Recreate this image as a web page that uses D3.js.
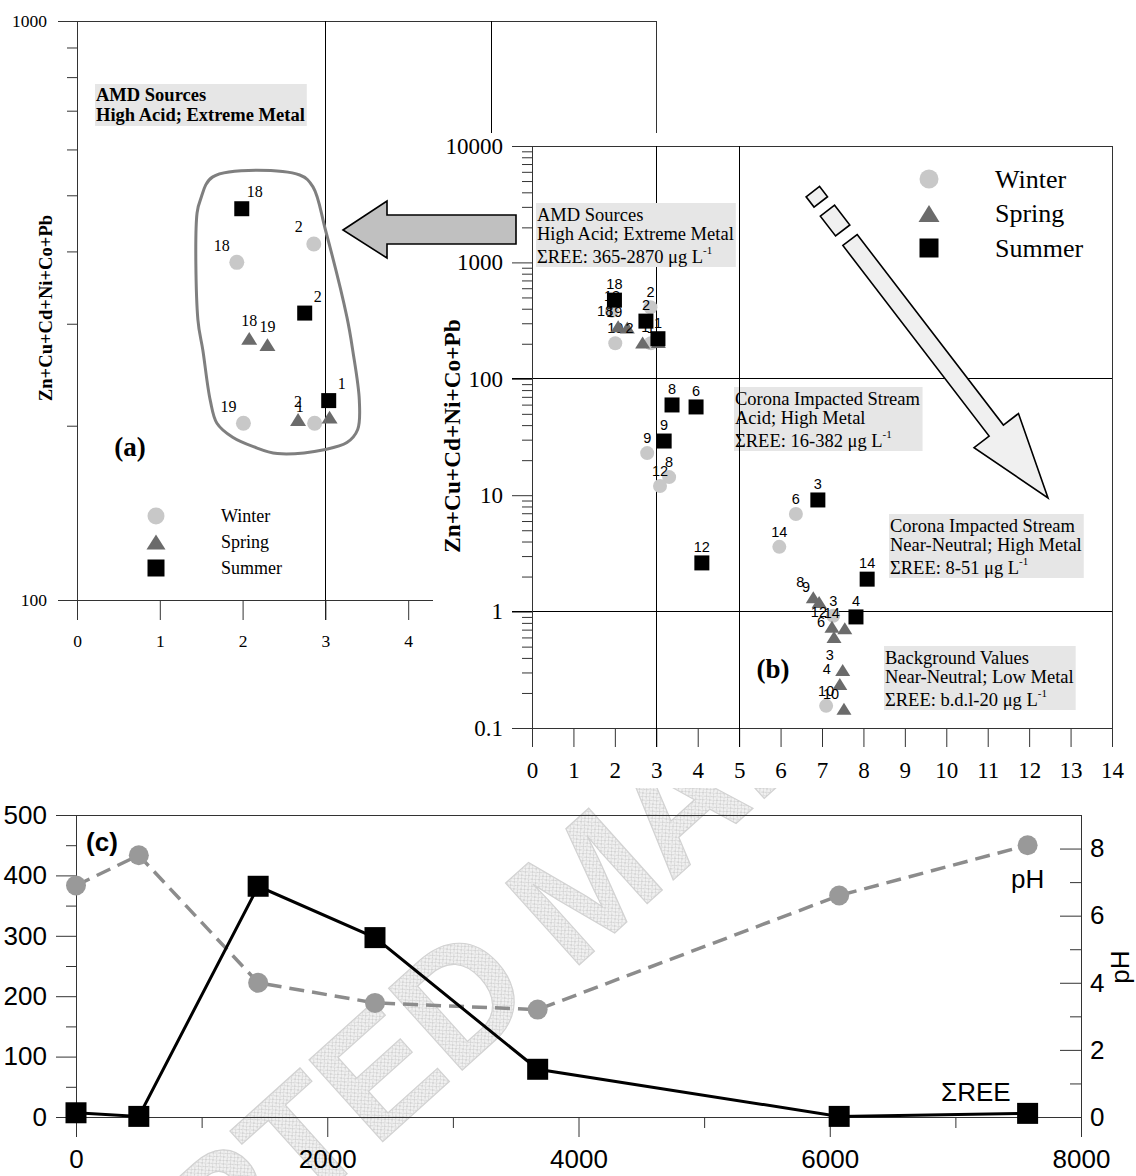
<!DOCTYPE html>
<html>
<head>
<meta charset="utf-8">
<script src="https://cdn.jsdelivr.net/npm/d3@7"></script>
<style>
  body { margin: 0; background: #fff; }
  svg { display: block; }
</style>
</head>
<body>
<svg id="fig" width="1136" height="1176"></svg>
<script>
// ---- metal load (Zn+Cu+Cd+Ni+Co+Pb, µg/L) against pH, by sampling season ----
const winterSites = ["18", "2", "19", "1", "9", "8", "12", "6", "14", "3", "10"];
const winterPH    = [1.93, 2.86, 2.01, 2.87, 2.78, 3.31, 3.09, 6.37, 5.97, 7.27, 7.10];
const winterMetal = [383, 412, 202, 202, 23, 14.3, 12.0, 6.9, 3.6, 0.92, 0.155];

const springSites = ["18", "19", "2", "1", "8", "9", "12", "14", "6", "3", "4", "10"];
const springPH    = [2.08, 2.30, 2.67, 3.05, 6.79, 6.93, 7.24, 7.55, 7.29, 7.50, 7.43, 7.53];
const springMetal = [283, 276, 205, 207, 1.33, 1.21, 0.74, 0.72, 0.605, 0.315, 0.239, 0.146];

const summerSites = ["18", "2", "1", "8", "6", "9", "12", "3", "14", "4"];
const summerPH    = [1.99, 2.75, 3.04, 3.38, 3.96, 3.19, 4.10, 6.90, 8.09, 7.82];
const summerMetal = [474, 313, 221, 59.6, 57.3, 29.2, 2.62, 9.1, 1.9, 0.90];

const seasonNames = ["Winter", "Spring", "Summer"];

// ---- downstream profile ----
const distance = [0, 500, 1450, 2380, 3675, 6075, 7575];
const sumREE   = [7, 1, 382, 297, 79, 1, 6];
const streamPH = [6.9, 7.8, 4.0, 3.4, 3.2, 6.6, 8.1];

// ---- tick values ----
const pHTicksA = [0, 1, 2, 3, 4, 5, 6, 7];
const pHTicksB = d3.range(0, 15);
const metalLabelsA = [100, 1000];
const metalLabelsB = [0.1, 1, 10, 100, 1000, 10000];
const distTicks = [0, 2000, 4000, 6000, 8000];
const distMinor = [1000, 3000, 5000, 7000];
const reeTicks = [0, 100, 200, 300, 400, 500];
const reeMinor = [50, 150, 250, 350, 450];
const phTicksC = [0, 2, 4, 6, 8];
const phMinorC = [1, 3, 5, 7];

// ---- quadrant limits (pH and metal) ----
const pHLimits = [3, 5];
const metalLimits = [1, 100];

// ---- annotation texts ----
const notesB = [
  { lines: ["AMD Sources", "High Acid; Extreme Metal", "ΣREE: 365-2870 μg L"], pos: [537, 215] },
  { lines: ["Corona Impacted Stream", "Acid; High Metal", "ΣREE: 16-382 μg L"], pos: [735, 399] },
  { lines: ["Corona Impacted Stream", "Near-Neutral; High Metal", "ΣREE: 8-51 μg L"], pos: [890, 526] },
  { lines: ["Background Values", "Near-Neutral; Low Metal", "ΣREE: b.d.l-20 μg L"], pos: [885, 658] }
];
const noteA = ["AMD Sources", "High Acid; Extreme Metal"];

// outline around the AMD-source cluster (pH, metal)
const clusterOutline = [
  [1.64, 538], [2.69, 542], [2.85, 517], [3.0, 436], [3.26, 308], [3.33, 270],
  [3.41, 221], [3.39, 197], [3.26, 187], [3.0, 182], [2.42, 179], [2.13, 184],
  [1.88, 191], [1.69, 202], [1.61, 221], [1.52, 270], [1.46, 305], [1.45, 466], [1.49, 491]
];

const SERIF = "'Liberation Serif','Times New Roman',serif";
const SANS = "'Liberation Sans',Arial,sans-serif";
const AXIS = "#333";

const svg = d3.select("#fig");
const defs = svg.append("defs");

const seasons = [
  { name: seasonNames[0], sites: winterSites, ph: winterPH, metal: winterMetal, shape: "circle", color: "#c8c8c8" },
  { name: seasonNames[1], sites: springSites, ph: springPH, metal: springMetal, shape: "triangle", color: "#6b6b6b" },
  { name: seasonNames[2], sites: summerSites, ph: summerPH, metal: summerMetal, shape: "square", color: "#000" }
];
const seasonPoints = s => s.sites.map((id, i) => ({ id, ph: s.ph[i], metal: s.metal[i] }));

function markerPath(shape, s) {
  if (shape === "circle") return d3.symbol(d3.symbolCircle, Math.PI * s * s / 4)();
  if (shape === "square") return d3.symbol(d3.symbolSquare, s * s)();
  const h = s * 0.8;
  return `M0,${-h / 2}L${s / 2},${h / 2}L${-s / 2},${h / 2}Z`;
}

function hline(g, y, x1, x2, color = AXIS, w = 1) {
  g.append("line").attr("x1", x1).attr("x2", x2).attr("y1", y).attr("y2", y)
    .attr("stroke", color).attr("stroke-width", w).attr("shape-rendering", "crispEdges");
}
function vline(g, x, y1, y2, color = AXIS, w = 1) {
  g.append("line").attr("x1", x).attr("x2", x).attr("y1", y1).attr("y2", y2)
    .attr("stroke", color).attr("stroke-width", w).attr("shape-rendering", "crispEdges");
}
function styleAxis(sel, family, size) {
  sel.attr("color", AXIS).attr("font-family", family).attr("font-size", size);
  sel.select(".domain").remove();
  sel.selectAll("text").attr("fill", "#000");
}

// ---------------- background stamp ----------------
const hatch = defs.append("pattern").attr("id", "hatch").attr("patternUnits", "userSpaceOnUse")
  .attr("width", 5).attr("height", 5);
hatch.append("rect").attr("width", 5).attr("height", 5).attr("fill", "#f1f1f1");
hatch.append("path").attr("d", "M0,0L5,5M5,0L0,5").attr("stroke", "#cdcdcd").attr("stroke-width", 0.8);

const stamp = svg.append("g").attr("transform", "translate(540,1000) rotate(-42)")
  .attr("font-family", SANS).attr("font-weight", "bold").attr("font-size", 160)
  .attr("fill", "url(#hatch)").attr("stroke", "#d2d2d2").attr("stroke-width", 1.2);
stamp.append("text").attr("x", 0).attr("text-anchor", "end").text("ACCEPTED");
stamp.append("text").attr("x", 42).attr("text-anchor", "start").text("MANUSCRIPT");

// ---------------- panel (a) ----------------
const xA = d3.scaleLinear([0, 7], [77, 656.6]);
const yA = d3.scaleLog([100, 1000], [600, 21]);
const gA = svg.append("g");

hline(gA, yA(1000), 58, xA(7));
hline(gA, yA(100), 58, xA(7));
vline(gA, xA(0), yA(1000), yA(100) + 20);
vline(gA, xA(7), yA(1000), yA(100) + 20);
pHLimits.forEach(v => vline(gA, xA(v), yA(1000), yA(100) + 20, "#000"));

const minorA = d3.range(200, 1000, 100);
gA.append("g").attr("transform", `translate(${xA(0)},0)`)
  .call(d3.axisLeft(yA).tickValues(minorA).tickSize(10).tickFormat(""))
  .call(s => styleAxis(s, SERIF, 17.5));
gA.append("g").attr("transform", `translate(${xA(0)},0)`)
  .call(d3.axisLeft(yA).tickValues(metalLabelsA).tickSize(19).tickPadding(11).tickFormat(d3.format("d")))
  .call(s => styleAxis(s, SERIF, 17.5));
gA.append("g").attr("transform", `translate(0,${yA(100)})`)
  .call(d3.axisBottom(xA).tickValues(pHTicksA).tickSize(20).tickPadding(15).tickFormat(d3.format("d")))
  .call(s => styleAxis(s, SERIF, 17.5));

gA.append("text").attr("transform", "translate(45,308) rotate(-90)")
  .attr("text-anchor", "middle").attr("dominant-baseline", "central")
  .attr("font-family", SERIF).attr("font-weight", "bold").attr("font-size", 18.6)
  .text("Zn+Cu+Cd+Ni+Co+Pb");

// note box
(function () {
  const g = gA.append("g");
  const rect = g.append("rect").attr("fill", "#e6e6e6");
  const t = g.append("g").attr("font-family", SERIF).attr("font-weight", "bold").attr("font-size", 18.5);
  noteA.forEach((ln, i) => t.append("text").attr("x", 96).attr("y", 95 + i * 20)
    .attr("dominant-baseline", "central").text(ln));
  const bb = t.node().getBBox();
  rect.attr("x", 95).attr("y", 84).attr("width", bb.width + 3).attr("height", 42);
})();

// outline around AMD sources
gA.append("path")
  .datum(clusterOutline)
  .attr("d", d3.line().x(d => xA(d[0])).y(d => yA(d[1])).curve(d3.curveCatmullRomClosed.alpha(0.5)))
  .attr("fill", "none").attr("stroke", "#7f7f7f").attr("stroke-width", 3);

const sizeA = { circle: 15, triangle: 16, square: 15 };
const offA = [[-15, -17], [0, -18], [13, -17]];
seasons.forEach((s, k) => {
  const g = gA.append("g");
  seasonPoints(s).filter(p => p.metal >= 100).forEach(p => {
    g.append("path").attr("d", markerPath(s.shape, sizeA[s.shape]))
      .attr("transform", `translate(${xA(p.ph)},${yA(p.metal)})`).attr("fill", s.color);
    g.append("text").attr("x", xA(p.ph) + offA[k][0]).attr("y", yA(p.metal) + offA[k][1])
      .attr("text-anchor", "middle").attr("dominant-baseline", "central")
      .attr("font-family", SERIF).attr("font-size", 16).text(p.id);
  });
});

// legend (a)
const legA = gA.append("g");
seasons.forEach((s, k) => {
  const y = 516 + k * 26;
  legA.append("path").attr("d", markerPath(s.shape, s.shape === "triangle" ? 19 : 17))
    .attr("transform", `translate(156,${y})`).attr("fill", s.color);
  legA.append("text").attr("x", 221).attr("y", y).attr("dominant-baseline", "central")
    .attr("font-family", SERIF).attr("font-size", 18).text(s.name);
});

gA.append("text").attr("x", 130).attr("y", 447).attr("text-anchor", "middle").attr("dominant-baseline", "central")
  .attr("font-family", SERIF).attr("font-weight", "bold").attr("font-size", 27).text("(a)");

// ---------------- panel (b) ----------------
const xB = d3.scaleLinear([0, 14], [532, 1112]);
const yB = d3.scaleLog([0.1, 10000], [728, 146]);
const gB = svg.append("g");
gB.append("rect").attr("x", 433).attr("y", 133).attr("width", 703).attr("height", 655).attr("fill", "#fff");

function noteBox(g, note) {
  const [x0, y0] = note.pos;
  const ng = g.append("g");
  const rect = ng.append("rect").attr("fill", "#e6e6e6");
  const t = ng.append("g").attr("font-family", SERIF).attr("font-size", 18.5);
  const dy = [0, 19, 42];
  note.lines.forEach((ln, i) => {
    const te = t.append("text").attr("x", x0).attr("y", y0 + dy[i]).attr("dominant-baseline", "central");
    te.append("tspan").text(ln);
    if (i === 2) te.append("tspan").attr("dy", -7).attr("font-size", 11).text("-1");
  });
  const bb = t.node().getBBox();
  rect.attr("x", x0 - 1).attr("y", y0 - 12).attr("width", bb.width + 3).attr("height", 64);
}
// these notes sit under the grid lines
notesB.slice(1).forEach(n => noteBox(gB, n));

const minorB = [];
for (let e = -1; e < 4; e++) for (let m = 2; m <= 9; m++) minorB.push(m * Math.pow(10, e));
gB.append("g").attr("transform", `translate(${xB(0)},0)`)
  .call(d3.axisLeft(yB).tickValues(minorB).tickSize(10).tickFormat(""))
  .call(s => styleAxis(s, SERIF, 23));
gB.append("g").attr("transform", `translate(${xB(0)},0)`)
  .call(d3.axisLeft(yB).tickValues(metalLabelsB).tickSize(20).tickPadding(9).tickFormat(d => d < 1 ? "0.1" : d3.format("d")(d)))
  .call(s => styleAxis(s, SERIF, 23));
gB.append("g").attr("transform", `translate(0,${yB(0.1)})`)
  .call(d3.axisBottom(xB).tickValues(pHTicksB).tickSize(19).tickPadding(15).tickFormat(d3.format("d")))
  .call(s => styleAxis(s, SERIF, 23));

hline(gB, yB(10000), 512, xB(14));
hline(gB, yB(0.1), 512, xB(14));
metalLimits.forEach(v => hline(gB, yB(v), 512, xB(14), "#000"));
vline(gB, xB(0), yB(10000), yB(0.1) + 19);
vline(gB, xB(14), yB(10000), yB(0.1) + 19);
pHLimits.forEach(v => vline(gB, xB(v), yB(10000), yB(0.1) + 19, "#000"));

// the AMD note covers the grid
noteBox(gB, notesB[0]);

gB.append("text").attr("transform", "translate(452,436) rotate(-90)")
  .attr("text-anchor", "middle").attr("dominant-baseline", "central")
  .attr("font-family", SERIF).attr("font-weight", "bold").attr("font-size", 23.3)
  .text("Zn+Cu+Cd+Ni+Co+Pb");

// trend arrow (segmented)
(function () {
  const S = [850, 240], T = [1048, 498];
  const L = Math.hypot(T[0] - S[0], T[1] - S[1]);
  const u = [(T[0] - S[0]) / L, (T[1] - S[1]) / L];
  const n = [u[1], -u[0]];
  const P = (t, w) => [S[0] + u[0] * t + n[0] * w, S[1] + u[1] * t + n[1] * w];
  const hw = 9, hl = 85, hh = 28;
  const shape = [P(0, hw), P(L - hl, hw), P(L - hl, hh), P(L, 0), P(L - hl, -hh), P(L - hl, -hw), P(0, -hw)];
  const seg = (a, b, w) => [P(a, w), P(b, w), P(b, -w), P(a, -w)];
  const polys = [seg(-61, -48, 8.5), seg(-37, -12, 9), shape];
  gB.selectAll("polygon.trend").data(polys).join("polygon").attr("class", "trend")
    .attr("points", d => d.map(p => p.join(",")).join(" "))
    .attr("fill", "#f0f0f0").attr("stroke", "#000").attr("stroke-width", 1.6).attr("stroke-linejoin", "miter");
})();

const sizeB = { circle: 14, triangle: 15, square: 15 };
const offB = [[0, -15], [-13, -15], [0, -16]];
seasons.forEach((s, k) => {
  const g = gB.append("g");
  seasonPoints(s).forEach(p => {
    g.append("path").attr("d", markerPath(s.shape, sizeB[s.shape]))
      .attr("transform", `translate(${xB(p.ph)},${yB(p.metal)})`).attr("fill", s.color);
    g.append("text").attr("x", xB(p.ph) + offB[k][0]).attr("y", yB(p.metal) + offB[k][1])
      .attr("text-anchor", "middle").attr("dominant-baseline", "central")
      .attr("font-family", SANS).attr("font-size", 14.5).text(p.id);
  });
});

// legend (b)
const legB = gB.append("g");
seasons.forEach((s, k) => {
  const y = 179 + k * 34.5;
  legB.append("path").attr("d", markerPath(s.shape, s.shape === "triangle" ? 21 : 19))
    .attr("transform", `translate(929,${y})`).attr("fill", s.color);
  legB.append("text").attr("x", 995).attr("y", y).attr("dominant-baseline", "central")
    .attr("font-family", SERIF).attr("font-size", 26).text(s.name);
});

gB.append("text").attr("x", 773).attr("y", 669).attr("text-anchor", "middle").attr("dominant-baseline", "central")
  .attr("font-family", SERIF).attr("font-weight", "bold").attr("font-size", 27).text("(b)");

// arrow linking the AMD cluster of (b) to the enlarged view (a)
svg.append("polygon")
  .attr("points", [[343, 230], [387, 201], [387, 215], [516, 215], [516, 244], [387, 244], [387, 258]].map(p => p.join(",")).join(" "))
  .attr("fill", "#c0c0c0").attr("stroke", "#000").attr("stroke-width", 1.6);

// ---------------- panel (c) ----------------
const xC = d3.scaleLinear([0, 8000], [76, 1081]);
const yC = d3.scaleLinear([0, 500], [1117, 815]);
const yPH = d3.scaleLinear([0, 9], [1117, 815]);
const gC = svg.append("g");

hline(gC, yC(500), 56, xC(8000));
hline(gC, yC(0), 56, xC(8000));
vline(gC, xC(0), yC(500), yC(0) + 20);
vline(gC, xC(8000), yC(500), yC(0) + 20);

gC.append("g").attr("transform", `translate(${xC(0)},0)`)
  .call(d3.axisLeft(yC).tickValues(reeMinor).tickSize(10).tickFormat(""))
  .call(s => styleAxis(s, SANS, 26));
gC.append("g").attr("transform", `translate(${xC(0)},0)`)
  .call(d3.axisLeft(yC).tickValues(reeTicks).tickSize(20).tickPadding(9).tickFormat(d3.format("d")))
  .call(s => styleAxis(s, SANS, 26));
gC.append("g").attr("transform", `translate(${xC(8000)},0)`)
  .call(d3.axisRight(yPH).tickValues(phMinorC).tickSize(-11).tickFormat(""))
  .call(s => styleAxis(s, SANS, 26));
gC.append("g").attr("transform", `translate(${xC(8000)},0)`)
  .call(d3.axisRight(yPH).tickValues(phTicksC).tickSize(-21).tickPadding(9).tickFormat(d3.format("d")))
  .call(s => styleAxis(s, SANS, 26));
gC.append("g").attr("transform", `translate(0,${yC(0)})`)
  .call(d3.axisBottom(xC).tickValues(distMinor).tickSize(11).tickFormat(""))
  .call(s => styleAxis(s, SANS, 26));
gC.append("g").attr("transform", `translate(0,${yC(0)})`)
  .call(d3.axisBottom(xC).tickValues(distTicks).tickSize(20).tickPadding(13).tickFormat(d3.format("d")))
  .call(s => styleAxis(s, SANS, 26));

gC.append("text").attr("transform", "translate(1120,967) rotate(-90)")
  .attr("text-anchor", "middle").attr("dominant-baseline", "central")
  .attr("font-family", SANS).attr("font-size", 26).text("pH");

const profile = distance.map((d, i) => ({ d, ree: sumREE[i], ph: streamPH[i] }));

gC.append("path").datum(profile)
  .attr("d", d3.line().x(p => xC(p.d)).y(p => yPH(p.ph)))
  .attr("fill", "none").attr("stroke", "#8c8c8c").attr("stroke-width", 3.5).attr("stroke-dasharray", "15 8");
gC.selectAll("circle.ph").data(profile).join("circle").attr("class", "ph")
  .attr("cx", p => xC(p.d)).attr("cy", p => yPH(p.ph)).attr("r", 10).attr("fill", "#999");

gC.append("path").datum(profile)
  .attr("d", d3.line().x(p => xC(p.d)).y(p => yC(p.ree)))
  .attr("fill", "none").attr("stroke", "#000").attr("stroke-width", 3);
gC.selectAll("path.ree").data(profile).join("path").attr("class", "ree")
  .attr("d", markerPath("square", 21))
  .attr("transform", p => `translate(${xC(p.d)},${yC(p.ree)})`).attr("fill", "#000");

const last = profile[profile.length - 1];
gC.append("text").attr("x", xC(last.d)).attr("y", yPH(last.ph) + 34)
  .attr("text-anchor", "middle").attr("dominant-baseline", "central")
  .attr("font-family", SANS).attr("font-size", 26).text("pH");
gC.append("text").attr("x", xC(last.d) - 17).attr("y", yC(last.ree) - 21)
  .attr("text-anchor", "end").attr("dominant-baseline", "central")
  .attr("font-family", SANS).attr("font-size", 26).text("ΣREE");

gC.append("text").attr("x", 102).attr("y", 842).attr("text-anchor", "middle").attr("dominant-baseline", "central")
  .attr("font-family", SANS).attr("font-weight", "bold").attr("font-size", 26).text("(c)");
</script>
</body>
</html>
